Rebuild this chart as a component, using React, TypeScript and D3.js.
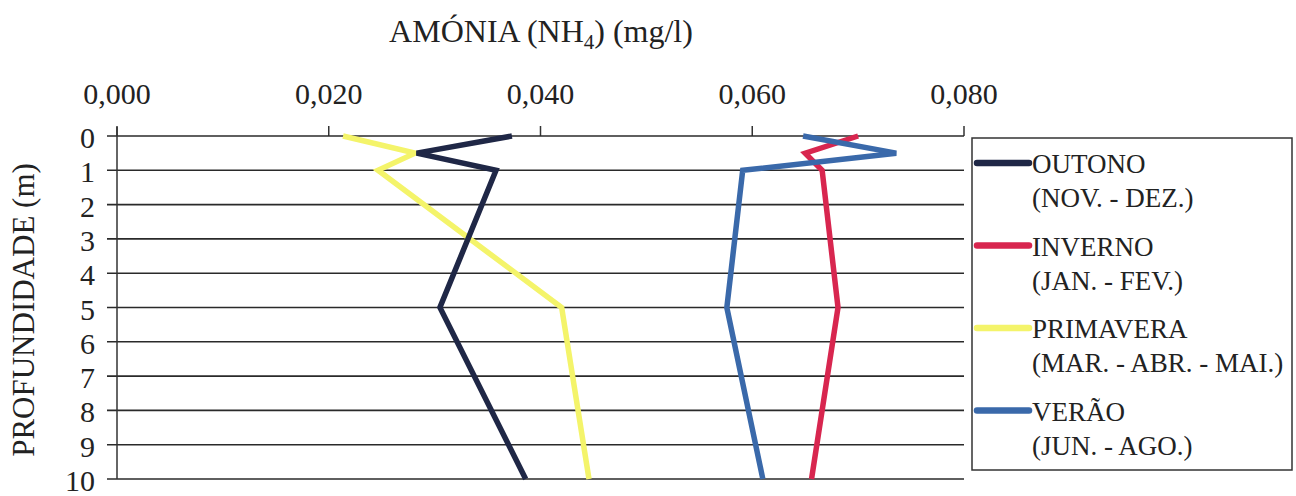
import React from "react";
import * as d3 from "d3";

const depths = [0, 0.5, 1, 5, 10];
const outono = [0.0373, 0.0283, 0.0358, 0.0305, 0.0386];
const inverno = [0.07, 0.065, 0.0666, 0.0681, 0.0656];
const primavera = [0.02135, 0.02815, 0.02465, 0.042, 0.04458];
const verao = [0.0648, 0.0736, 0.0591, 0.0576, 0.061];

const xTicks = [0, 0.02, 0.04, 0.06, 0.08];
const yTicks = [0, 1, 2, 3, 4, 5, 6, 7, 8, 9, 10];

const seriesNames = ["OUTONO", "INVERNO", "PRIMAVERA", "VERÃO"];
const seriesSub = ["(NOV. - DEZ.)", "(JAN. - FEV.)", "(MAR. - ABR. - MAI.)", "(JUN. - AGO.)"];
const seriesColors = ["#1f2746", "#d8264f", "#f4f46a", "#3a69aa"];
const seriesValues = [outono, inverno, primavera, verao];
const drawOrder = [2, 0, 1, 3];

const FONT = "'Liberation Serif', 'Times New Roman', serif";

export default function App() {
  const x = d3.scaleLinear().domain([0, 0.08]).range([117, 964]);
  const y = d3.scaleLinear().domain([0, 10]).range([136, 479]);
  const fmt = (v: number) => v.toFixed(3).replace(".", ",");
  const line = d3
    .line<number>()
    .x((d) => x(d))
    .y((_, i) => y(depths[i]));

  return (
    <svg
      width={1296}
      height={496}
      style={{ position: "absolute", left: 0, top: 0, background: "#fff" }}
      fontFamily={FONT}
    >
      <rect x={0} y={0} width={1296} height={496} fill="#fff" />
      {/* title */}
      <text x={541} y={42} fontSize={32} textAnchor="middle" fill="#222">
        AMÓNIA (NH
        <tspan fontSize={21} dy={7}>4</tspan>
        <tspan dy={-7}>) (mg/l)</tspan>
      </text>
      {/* x tick labels */}
      {xTicks.map((t) => (
        <text key={"xl" + t} x={x(t)} y={104} fontSize={30} textAnchor="middle" fill="#222">
          {fmt(t)}
        </text>
      ))}
      {/* top ticks */}
      {xTicks.map((t) => (
        <line key={"xt" + t} x1={x(t)} x2={x(t)} y1={y(0)} y2={y(0) - 10} stroke="#333" strokeWidth={1.5} />
      ))}
      {/* gridlines */}
      {yTicks.map((t) => (
        <line key={"g" + t} x1={x(0) - 10} x2={x(0.08)} y1={y(t)} y2={y(t)} stroke="#2a2a2a" strokeWidth={1.6} />
      ))}
      {/* y axis */}
      <line x1={x(0)} x2={x(0)} y1={y(0) - 9} y2={y(10)} stroke="#333" strokeWidth={1.5} />
      {/* y tick labels */}
      {yTicks.map((t) => (
        <text key={"yl" + t} x={95} y={y(t) + 12} fontSize={30} textAnchor="end" fill="#222">
          {t}
        </text>
      ))}
      {/* y axis title */}
      <text
        transform={`translate(34,310) rotate(-90)`}
        fontSize={31}
        textAnchor="middle"
        fill="#222"
      >
        PROFUNDIDADE (m)
      </text>
      {/* series */}
      {drawOrder.map((i) => (
        <path
          key={"s" + i}
          d={line(seriesValues[i]) || ""}
          fill="none"
          stroke={seriesColors[i]}
          strokeWidth={5.5}
          strokeLinejoin="miter"
        />
      ))}
      {/* legend */}
      <rect x={972} y={138} width={320} height={332} fill="#fff" stroke="#333" strokeWidth={1.5} />
      {seriesNames.map((n, i) => {
        const ly = 163 + i * 82.5;
        return (
          <g key={"lg" + i}>
            <line x1={977} x2={1029} y1={ly} y2={ly} stroke={seriesColors[i]} strokeWidth={6.5} strokeLinecap="round" />
            <text x={1032} y={ly + 10} fontSize={27} fill="#222">
              {n}
            </text>
            <text x={1032} y={ly + 44} fontSize={27} fill="#222">
              {seriesSub[i]}
            </text>
          </g>
        );
      })}
    </svg>
  );
}
